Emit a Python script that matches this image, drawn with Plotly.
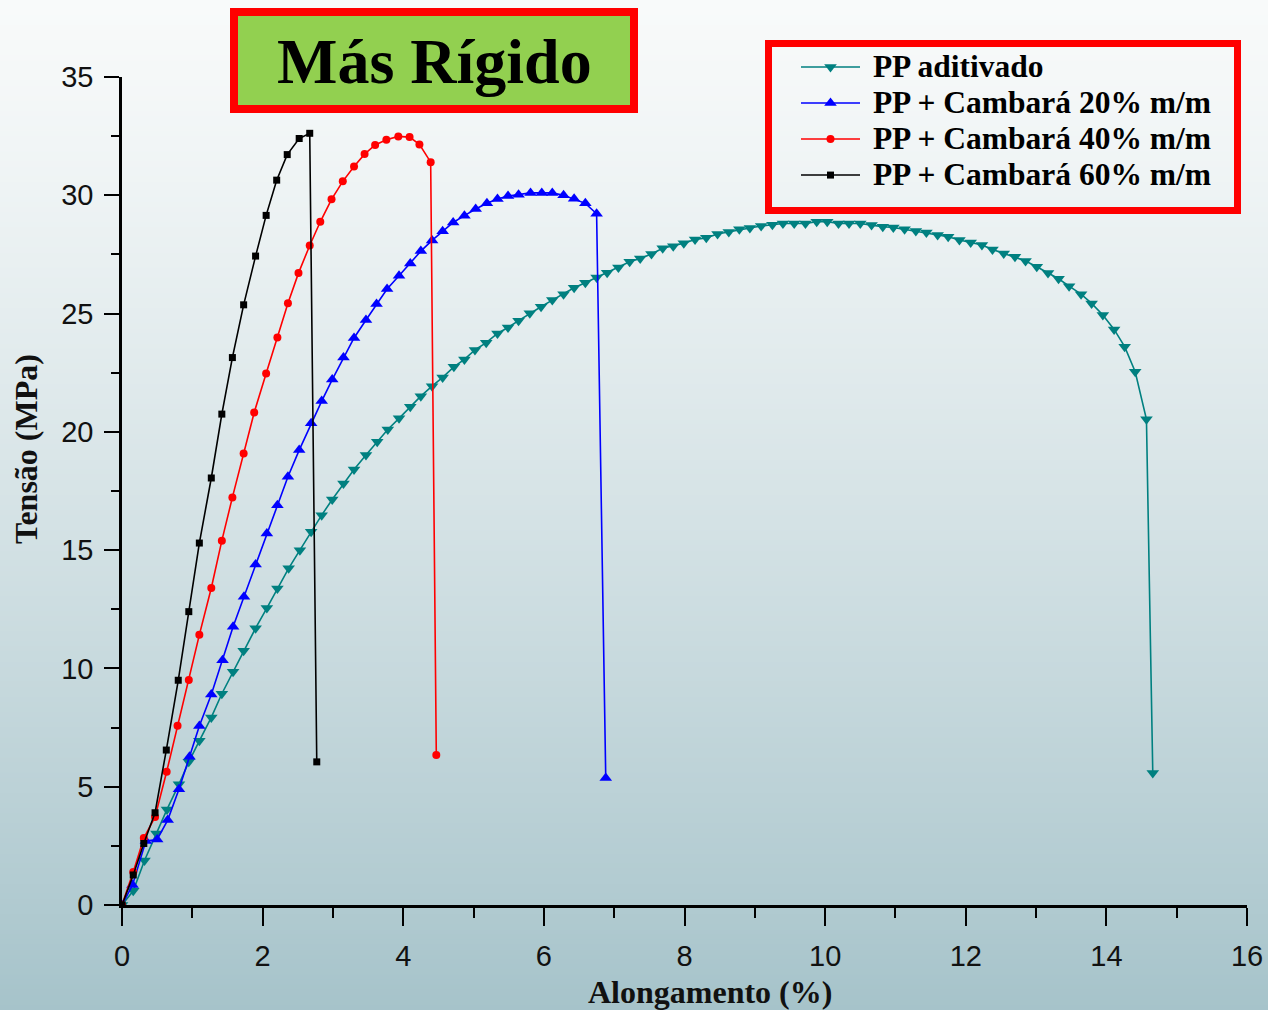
import plotly.graph_objects as go

# Stress-strain curves: elongation (%) vs. tensile stress (MPa)
pp_x = [0, 0.16, 0.32, 0.49, 0.64, 0.81, 0.95, 1.10, 1.27, 1.42, 1.58, 1.73, 1.90, 2.06,
        2.21, 2.37, 2.53, 2.69, 2.84, 2.99, 3.15, 3.30, 3.47, 3.63, 3.78, 3.94, 4.10, 4.25,
        4.41, 4.56, 4.72, 4.87, 5.02, 5.18, 5.34, 5.49, 5.64, 5.80, 5.96, 6.12, 6.28, 6.43,
        6.59, 6.75, 6.90, 7.06, 7.22, 7.37, 7.53, 7.69, 7.84, 7.99, 8.15, 8.31, 8.47, 8.63,
        8.78, 8.93, 9.09, 9.25, 9.40, 9.56, 9.72, 9.88, 10.03, 10.19, 10.34, 10.50, 10.66,
        10.82, 10.97, 11.13, 11.29, 11.44, 11.60, 11.75, 11.91, 12.07, 12.23, 12.38, 12.54,
        12.70, 12.85, 13.01, 13.17, 13.32, 13.47, 13.64, 13.79, 13.95, 14.11, 14.26, 14.41,
        14.57, 14.66]
pp_y = [0, 0.60, 1.88, 3.02, 4.04, 5.10, 6.05, 6.94, 7.93, 8.93, 9.86, 10.75, 11.70, 12.55,
        13.38, 14.23, 15.00, 15.78, 16.48, 17.14, 17.82, 18.41, 19.02, 19.58, 20.10, 20.57,
        21.06, 21.51, 21.93, 22.30, 22.75, 23.06, 23.46, 23.77, 24.16, 24.41, 24.70, 25.01,
        25.29, 25.57, 25.82, 26.09, 26.30, 26.53, 26.73, 26.95, 27.19, 27.33, 27.52, 27.76,
        27.85, 27.97, 28.13, 28.20, 28.36, 28.45, 28.56, 28.62, 28.70, 28.75, 28.81, 28.81,
        28.81, 28.88, 28.88, 28.81, 28.81, 28.81, 28.74, 28.67, 28.64, 28.56, 28.49, 28.43,
        28.32, 28.25, 28.11, 28.00, 27.90, 27.71, 27.54, 27.40, 27.22, 26.98, 26.72, 26.47,
        26.16, 25.82, 25.43, 24.94, 24.33, 23.60, 22.54, 20.53, 5.58]

c20_x = [0, 0.15, 0.34, 0.50, 0.65, 0.81, 0.96, 1.10, 1.27, 1.43, 1.58, 1.735, 1.90, 2.06,
         2.21, 2.36, 2.52, 2.69, 2.84, 2.99, 3.15, 3.30, 3.47, 3.62, 3.77, 3.94, 4.10, 4.25,
         4.41, 4.56, 4.71, 4.87, 5.03, 5.19, 5.34, 5.49, 5.64, 5.81, 5.97, 6.12, 6.28, 6.43,
         6.59, 6.75, 6.88]
c20_y = [0, 0.85, 2.71, 2.77, 3.59, 4.89, 6.27, 7.57, 8.90, 10.35, 11.76, 13.03, 14.39,
         15.70, 16.90, 18.10, 19.23, 20.36, 21.30, 22.21, 23.14, 23.97, 24.73, 25.40, 26.04,
         26.60, 27.12, 27.64, 28.09, 28.48, 28.85, 29.14, 29.42, 29.66, 29.84, 29.97, 30.02,
         30.10, 30.10, 30.10, 30.00, 29.85, 29.66, 29.22, 5.37]

c40_x = [0, 0.16, 0.31, 0.47, 0.635, 0.79, 0.95, 1.10, 1.27, 1.42, 1.57, 1.73, 1.88, 2.05,
         2.21, 2.36, 2.51, 2.67, 2.82, 2.98, 3.14, 3.30, 3.45, 3.60, 3.76, 3.93, 4.09, 4.23,
         4.39, 4.47]
c40_y = [0, 1.40, 2.83, 3.72, 5.63, 7.58, 9.51, 11.42, 13.40, 15.40, 17.23, 19.09, 20.82,
         22.47, 23.99, 25.44, 26.71, 27.88, 28.88, 29.83, 30.59, 31.22, 31.74, 32.13, 32.35,
         32.49, 32.46, 32.15, 31.40, 6.34]

c60_x = [0, 0.16, 0.31, 0.47, 0.63, 0.80, 0.95, 1.10, 1.27, 1.42, 1.57, 1.73, 1.90, 2.05,
         2.20, 2.35, 2.52, 2.67, 2.77]
c60_y = [0, 1.27, 2.60, 3.90, 6.55, 9.50, 12.40, 15.30, 18.05, 20.75, 23.14, 25.37, 27.43,
         29.15, 30.64, 31.72, 32.40, 32.62, 6.05]

series_names = ["PP aditivado", "PP + Cambará 20% m/m",
                "PP + Cambará 40% m/m", "PP + Cambará 60% m/m"]

x_ticks = [0, 2, 4, 6, 8, 10, 12, 14, 16]
y_ticks = [0, 5, 10, 15, 20, 25, 30, 35]

W, H = 1268, 1010
L, R, T, B = 122, 21, 77, 105
PW, PH = W - L - R, H - T - B


def px_x(p):
    return (p - L) / PW


def px_y(p):
    return (H - B - p) / PH


SERIF = "Liberation Serif, Times New Roman, serif"
SANS = "Liberation Sans, Arial, sans-serif"

fig = go.Figure()

styles = [
    (pp_x, pp_y, "#008080", "triangle-down", 11),
    (c20_x, c20_y, "#0000ff", "triangle-up", 11),
    (c40_x, c40_y, "#ff0000", "circle", 8),
    (c60_x, c60_y, "#000000", "square", 7),
]
for name, (xs, ys, col, sym, sz) in zip(series_names, styles):
    label = "<span style='font-size:31.5px'>\u00a0<b>%s</b></span>" % name
    fig.add_trace(go.Scatter(
        x=xs, y=ys, name=label, mode="lines+markers",
        line=dict(color=col, width=1.6),
        marker=dict(symbol=sym, size=sz, color=col, line=dict(width=0)),
    ))

# vertical gradient background, white at top to pale blue-grey at bottom
top = (248, 250, 250)
bot = (166, 195, 202)
n = 200
shapes = []
for i in range(n):
    t = (i + 0.5) / n
    k = t ** 1.25
    c = tuple(round(top[j] + (bot[j] - top[j]) * k) for j in range(3))
    y0p = i * H / n
    y1p = (i + 1) * H / n + 1
    shapes.append(dict(
        type="rect", xref="paper", yref="paper", layer="below",
        x0=px_x(0), x1=px_x(W), y0=px_y(y1p), y1=px_y(y0p),
        fillcolor="rgb(%d,%d,%d)" % c, line=dict(width=0),
    ))

# "Más Rígido" banner
shapes.append(dict(
    type="rect", xref="paper", yref="paper",
    x0=px_x(234), x1=px_x(634), y0=px_y(109), y1=px_y(12),
    fillcolor="#92d050", line=dict(color="#ff0000", width=8),
))
# frame around the legend
shapes.append(dict(
    type="rect", xref="paper", yref="paper",
    x0=px_x(768.5), x1=px_x(1237.5), y0=px_y(210.5), y1=px_y(43.5),
    fillcolor="rgba(0,0,0,0)", line=dict(color="#ff0000", width=7),
))

annotations = [
    dict(text="<b>Más Rígido</b>", xref="paper", yref="paper",
         x=px_x(434), y=px_y(62), xanchor="center", yanchor="middle",
         showarrow=False, font=dict(family=SERIF, size=64, color="#000000")),
    dict(text="<b>Alongamento (%)</b>", xref="paper", yref="paper",
         x=px_x(710), y=px_y(992), xanchor="center", yanchor="middle",
         showarrow=False, font=dict(family=SERIF, size=32, color="#111111")),
    dict(text="<b>Tensão (MPa)</b>", xref="paper", yref="paper",
         x=px_x(26), y=px_y(449), xanchor="center", yanchor="middle",
         textangle=-90, showarrow=False,
         font=dict(family=SERIF, size=32, color="#111111")),
]

axis_common = dict(
    showline=True, linecolor="#000000", linewidth=2.5,
    ticks="outside", tickwidth=2, tickcolor="#000000",
    showgrid=False, zeroline=False, mirror=False, automargin=False,
    tickfont=dict(family=SANS, size=29, color="#111111"),
)

fig.update_layout(
    width=W, height=H,
    margin=dict(l=L, r=R, t=T, b=B, pad=0, autoexpand=False),
    paper_bgcolor="rgb(166,195,202)",
    plot_bgcolor="rgba(0,0,0,0)",
    shapes=shapes,
    annotations=annotations,
    showlegend=True,
    legend=dict(
        x=px_x(796), y=px_y(44), xanchor="left", yanchor="top",
        bgcolor="rgba(0,0,0,0)", borderwidth=0,
        font=dict(family=SERIF, size=25.4, color="#000000"),
        itemwidth=59, tracegroupgap=0,
    ),
    xaxis=dict(range=[0, 16], tickvals=x_ticks, ticktext=[str(v) for v in x_ticks],
               ticklen=18,
               minor=dict(dtick=1, tick0=0, ticks="outside", ticklen=10,
                          tickwidth=2, tickcolor="#000000"),
               ticklabelstandoff=5, **axis_common),
    yaxis=dict(range=[0, 35], tickvals=y_ticks, ticktext=[str(v) for v in y_ticks],
               ticklen=15,
               minor=dict(dtick=2.5, tick0=0, ticks="outside", ticklen=8,
                          tickwidth=2, tickcolor="#000000"),
               ticklabelstandoff=5, **axis_common),
)

fig.write_html("out.html")
